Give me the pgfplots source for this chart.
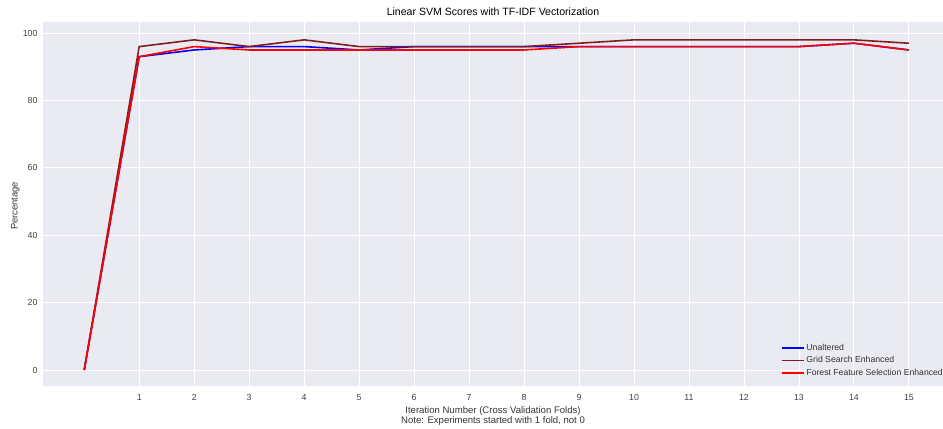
\documentclass[border=0pt]{standalone}
\usepackage{pgfplots}
\pgfplotsset{compat=1.18}
\usepackage{fontspec}
\setmainfont{Liberation Sans}
\definecolor{bg}{HTML}{EAEAF2}
\definecolor{gridc}{RGB}{128,30,30}
\begin{document}
\begin{tikzpicture}
\begin{axis}[
  at={(0,0)}, anchor=south west,
  scale only axis, width=900bp, height=364bp,
  xmin=-0.75, xmax=15.62, ymin=-4.75, ymax=103.3,
  axis background/.style={fill=bg},
  axis line style={draw=none},
  major tick length=0pt,
  grid=major, major grid style={white, line width=0.9bp},
  xtick={1,...,15}, ytick={0,20,...,100},
  tick label style={font=\fontsize{8.8}{10}\selectfont, text=black!75},
  /pgf/number format/assume math mode=true,
  xticklabel style={yshift=-5bp},
  yticklabel style={xshift=-2bp},
  title={Linear SVM Scores with TF-IDF Vectorization},
  title style={font=\fontsize{10.6}{12}\selectfont, at={(0.5,1)}, anchor=south, yshift=-3bp},
  xlabel={Iteration Number (Cross Validation Folds)\\Note: Experiments started with 1 fold, not 0},
  xlabel style={align=center, font=\fontsize{9.6}{10.5}\selectfont, text=black!80, at={(axis description cs:0.5,0)}, anchor=north, yshift=-17bp},
  ylabel={Percentage},
  ylabel style={font=\fontsize{9.4}{10}\selectfont, text=black!80, at={(axis description cs:-0.022,0.4945)}, anchor=south},
  legend style={at={(axis description cs:1,0)}, anchor=south east, draw=none, fill=none, font=\fontsize{8.7}{9.5}\selectfont, text=black!80, row sep=0.6bp, yshift=5bp, xshift=5bp},
  legend cell align=left,
  legend image code/.code={\draw[#1, line width=1.7bp] (0bp,0bp) -- (22bp,0bp);},
]
\addplot[blue, line width=1.6bp] coordinates {(0,0)(1,93)(2,95)(3,96)(4,96)(5,95)(6,96)(7,96)(8,96)(9,96)(10,96)(11,96)(12,96)(13,96)(14,97)(15,95)};
\addlegendentry{Unaltered}
\addplot[gridc, line width=1.6bp] coordinates {(0,0)(1,96)(2,98)(3,96)(4,98)(5,96)(6,96)(7,96)(8,96)(9,97)(10,98)(11,98)(12,98)(13,98)(14,98)(15,97)};
\addlegendentry{Grid Search Enhanced}
\addplot[red, line width=1.6bp] coordinates {(0,0)(1,93)(2,96)(3,95)(4,95)(5,95)(6,95)(7,95)(8,95)(9,96)(10,96)(11,96)(12,96)(13,96)(14,97)(15,95)};
\addlegendentry{Forest Feature Selection Enhanced}
\end{axis}
\pgfresetboundingbox
\path[use as bounding box] (-43bp,-43bp) rectangle (900bp,386bp);
\end{tikzpicture}
\end{document}
